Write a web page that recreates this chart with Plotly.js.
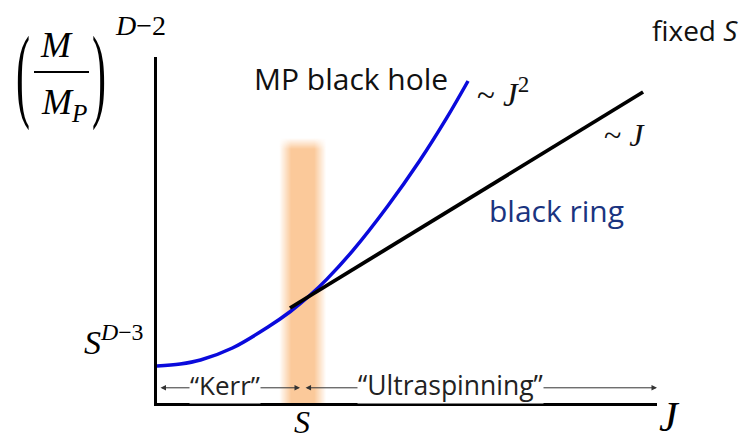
<!DOCTYPE html>
<html>
<head>
<meta charset="utf-8">
<script src="https://cdn.plot.ly/plotly-3.0.1.min.js"></script>
<style>html,body{margin:0;padding:0;background:#fff;}#chart{width:742px;height:439px;}</style>
</head>
<body>
<div id="chart"></div>
<script>
// Myers-Perry (MP) black hole curve: J vs (M/M_P)^(D-2) at fixed S
const mpJ = [0, 0.16, 0.30, 0.52, 0.76, 0.92, 1.055, 1.17, 1.35, 1.59, 1.81, 2.0, 2.145];
const mpM = [0.37, 0.39, 0.43, 0.55, 0.755, 0.915, 1.077, 1.236, 1.524, 1.968, 2.42, 2.856, 3.22];
// Black ring branch
const ringJ = [0.917, 3.352];
const ringM = [0.95, 3.11];
// Transition band around J ~ S (intensity profile across / up the band)
const bandJ = [0.84, 0.925, 1.08, 1.165];
const bandM = [0, 2.55, 2.66];
const bandZ = [[0, 1, 1, 0], [0, 1, 1, 0], [0, 0, 0, 0]];
// Regime arrows
const kerrRange = [0.014, 0.986];
const ultraRange = [1.014, 3.448];
const arrowLevel = 0.152;

const serif = 'Liberation Serif, DejaVu Serif, serif';
const sans = 'Open Sans, Lato, sans-serif';
const xr = [0, 3.448], yr = [0, 3.46];
const ppx = v => (v - 157) / 500;     // pixel -> paper x (label placement)
const ppy = v => (403 - v) / 346;     // pixel -> paper y

const traces = [
  {type: 'heatmap', x: bandJ, y: bandM, z: bandZ, zsmooth: 'best', showscale: false, hoverinfo: 'skip',
   zmin: 0, zmax: 1, colorscale: [[0, 'rgba(251,201,154,0)'], [1, 'rgb(251,201,154)']]},
  {type: 'scatter', x: mpJ, y: mpM, mode: 'lines', line: {color: '#0a0adc', width: 3.5, shape: 'spline', smoothing: 1}, hoverinfo: 'skip'},
  {type: 'scatter', x: ringJ, y: ringM, mode: 'lines', line: {color: '#000000', width: 3.8}, hoverinfo: 'skip'}
];

const shapes = [
  // fraction bar of M / M_P
  {type: 'line', xref: 'paper', yref: 'paper', x0: ppx(34), x1: ppx(89), y0: ppy(72), y1: ppy(72), line: {color: '#000', width: 2}}
];

function arrow(r) {
  return {x: r[1], y: arrowLevel, ax: r[0], ay: arrowLevel, xref: 'x', yref: 'y', axref: 'x', ayref: 'y',
    text: '', showarrow: true, arrowhead: 2, startarrowhead: 2, arrowside: 'end+start', arrowsize: 1.1, startarrowsize: 1.1,
    arrowwidth: 1, arrowcolor: '#333'};
}
function label(text, x, y, size, color, font, extra) {
  return Object.assign({x: ppx(x), y: ppy(y), xref: 'paper', yref: 'paper', text: text, showarrow: false,
    font: {family: font || sans, size: size, color: color || '#111'}, xanchor: 'center', yanchor: 'middle'}, extra || {});
}

const annotations = [
  arrow(kerrRange),
  arrow(ultraRange),
  label('\u201CKerr\u201D', 225, 385, 26, '#222', sans, {bgcolor: '#fff', borderpad: 0}),
  label('\u201CUltraspinning\u201D', 450, 385, 26.5, '#222', sans, {bgcolor: '#fff', borderpad: 0}),
  label('MP black hole', 351, 78, 30, '#111'),
  label('~ <i>J</i><sup>2</sup>', 503, 92, 33, '#111', serif),
  label('~ <i>J</i>', 624, 135, 32, '#111', serif),
  label('black ring', 556, 210, 30, '#1a3480'),
  label('fixed <i>S</i>', 695, 30, 28, '#111', sans),
  label('<i>S</i><sup><i>D</i>\u22123</sup>', 114, 340, 34, '#000', serif),
  label('<i>S</i>', 302, 422, 32, '#000', serif),
  label('<i>J</i>', 669, 417, 42, '#000', serif),
  // y-axis label: (M / M_P)^(D-2)
  label('(', 23, 74, 42, '#000', serif, {name: 'parenL'}),
  label(')', 99, 74, 42, '#000', serif, {name: 'parenR'}),
  label('<i>M</i>', 56, 45, 36, '#000', serif),
  label('<i>M</i><sub><i>P</i></sub>', 64, 104, 36, '#000', serif),
  label('<i>D</i>\u22122', 140, 25, 28, '#000', serif)
];

const layout = {
  width: 742, height: 439,
  margin: {l: 157, r: 85, t: 57, b: 36, pad: 0},
  paper_bgcolor: '#fff', plot_bgcolor: '#fff',
  showlegend: false,
  xaxis: {range: xr, showline: true, linewidth: 3, linecolor: '#000', showgrid: false, zeroline: false,
    showticklabels: false, ticks: '', fixedrange: true},
  yaxis: {range: yr, showline: true, linewidth: 3, linecolor: '#000', showgrid: false, zeroline: false,
    showticklabels: false, ticks: '', fixedrange: true},
  shapes: shapes,
  annotations: annotations
};

Plotly.newPlot('chart', traces, layout, {staticPlot: true, displayModeBar: false}).then(function () {
  // stretch the big parentheses vertically so they span the fraction
  const groups = document.querySelectorAll('#chart g.annotation');
  annotations.forEach(function (a, i) {
    if (a.name !== 'parenL' && a.name !== 'parenR') return;
    const g = groups[i];
    if (!g) return;
    const t = g.querySelector('text');
    if (!t) return;
    const bb = t.getBBox();
    const cx = bb.x + bb.width / 2, cy = bb.y + bb.height / 2;
    const prev = t.getAttribute('transform') || '';
    t.setAttribute('transform', prev + ' translate(' + cx + ',' + cy + ') scale(1,2.45) translate(' + (-cx) + ',' + (-cy) + ')');
  });
});
</script>
</body>
</html>
